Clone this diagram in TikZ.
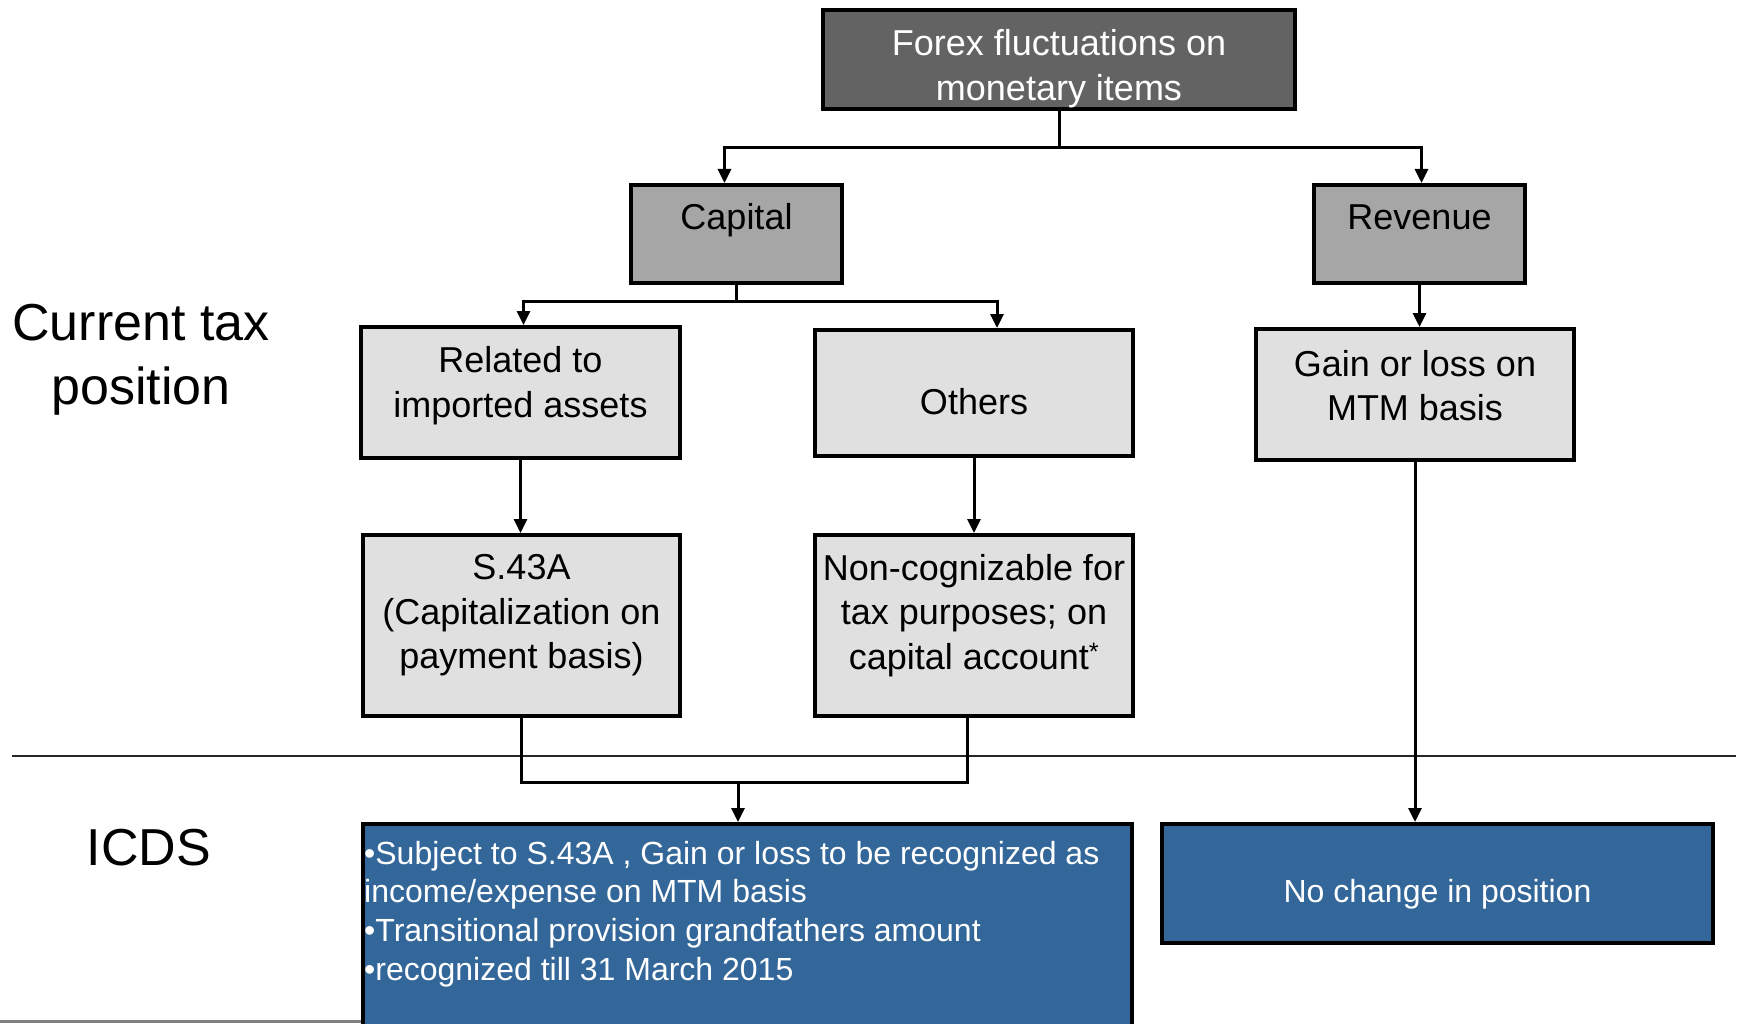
\documentclass[tikz,border=0pt]{standalone}
\usepackage{fontspec}
\setmainfont{Liberation Sans}
\usetikzlibrary{arrows.meta}
\definecolor{topfill}{RGB}{99,99,99}
\definecolor{capfill}{RGB}{166,166,166}
\definecolor{lightfill}{RGB}{224,224,224}
\definecolor{bluefill}{RGB}{52,103,153}
\begin{document}
\begin{tikzpicture}[x=1pt,y=-1pt,
  boxbase/.style={draw=black, line width=4pt, inner sep=0pt},
  darkbox/.style={boxbase, fill=topfill},
  midbox/.style={boxbase, fill=capfill},
  lightbox/.style={boxbase, fill=lightfill},
  bluebox/.style={boxbase, fill=bluefill},
  boxtxt/.style={align=center, inner sep=0pt, font=\fontsize{36}{44.5}\selectfont},
  bluetxt/.style={align=left, inner sep=0pt, text=white, font=\fontsize{32}{38.7}\selectfont},
  sidetxt/.style={align=center, inner sep=0pt, font=\fontsize{52}{64}\selectfont},
  conn/.style={line width=3pt, draw=black},
  arr/.style={conn, -{Triangle[length=14pt,width=13pt]}},
  sepline/.style={line width=2.5pt, draw=black!85},
  grayline/.style={line width=3pt, draw=black!50}]
\useasboundingbox (0,0) rectangle (1744,1024);

% boxes
\node[darkbox, minimum width=472, minimum height=99] (top) at (1059,59.5) {};
\node[boxtxt, text=white] (toptxt) at (1059,68.5) {Forex fluctuations on\\monetary items};

\node[midbox, minimum width=211, minimum height=98] (cap) at (736.5,234) {};
\node[boxtxt] (captxt) at (736.5,220.5) {Capital};

\node[midbox, minimum width=211, minimum height=98] (rev) at (1419.5,234) {};
\node[boxtxt] (revtxt) at (1419.5,217.5) {Revenue};

\node[lightbox, minimum width=319, minimum height=131] (rel) at (520.5,392.5) {};
\node[boxtxt] (reltxt) at (520.5,385.5) {Related to\\imported assets};

\node[lightbox, minimum width=318, minimum height=126] (oth) at (974,393) {};
\node[boxtxt] (othtxt) at (974,401.5) {Others};

\node[lightbox, minimum width=318, minimum height=131] (gain) at (1415,394.5) {};
\node[boxtxt] (gaintxt) at (1415,385.5) {Gain or loss on\\MTM basis};

\node[lightbox, minimum width=317, minimum height=181] (s43) at (521.5,625.5) {};
\node[boxtxt] (s43txt) at (521.5,615.5) {S.43A\\(Capitalization on\\payment basis)};

\node[lightbox, minimum width=318, minimum height=181] (non) at (974,625.5) {};
\node[boxtxt] (nontxt) at (974,615.5) {Non-cognizable for\\tax purposes; on\\capital account\textsuperscript{*}};

\node[bluebox, minimum width=769, minimum height=230] (lbox) at (747.5,939) {};
\node[bluetxt, anchor=west] (lboxtxt) at (364,914) {•Subject to S.43A , Gain or loss to be recognized as\\income/expense on MTM basis\\•Transitional provision grandfathers amount\\•recognized till 31 March 2015};

\node[bluebox, minimum width=551, minimum height=119] (rbox) at (1437.5,883.5) {};
\node[bluetxt, align=center] (rboxtxt) at (1437.5,894) {No change in position};

% side labels
\node[sidetxt] (cur) at (141,359.5) {Current tax\\position};
\node[sidetxt] (icds) at (149,848) {ICDS};

% separator lines
\coordinate (sepL) at (12,756);
\coordinate (sepR) at (1736,756);
\draw[sepline] (sepL) -- (sepR);
\coordinate (grayL) at (0,1021);
\draw[grayline] (grayL) -- (lbox.west |- grayL);

% connectors
\coordinate (tj) at (1059,148);
\draw[conn] (top.south) -- (tj);
\draw[arr] (tj) -| ([xshift=-12pt]cap.north);
\draw[arr] (tj) -| ([xshift=2pt]rev.north);

\coordinate (cj) at (736.5,301);
\draw[conn] (cap.south) -- (cj);
\draw[arr] (cj) -| ([xshift=3pt]rel.north);
\draw[arr] (cj) -| ([xshift=23pt]oth.north);

\draw[arr] (rev.south) -- (gain.north -| rev.south);
\draw[arr] (rel.south) -- (s43.north -| rel.south);
\draw[arr] (oth.south) -- (non.north -| oth.south);

\coordinate (bj) at (738,782);
\draw[conn] (s43.south) |- ([xshift=-7pt]non.south |- bj) -- ([xshift=-7pt]non.south);
\draw[arr] (bj) -- (bj |- lbox.north);

\draw[arr] (gain.south) -- (gain.south |- rbox.north);
\end{tikzpicture}
\end{document}
